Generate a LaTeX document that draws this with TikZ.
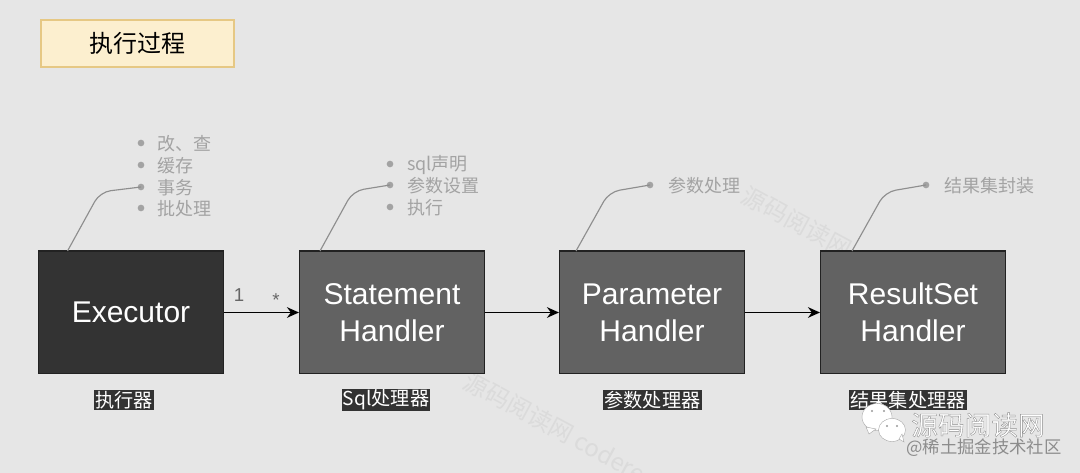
\documentclass[tikz,border=0pt]{standalone}
\usepackage{fontspec}
\setmainfont{Liberation Sans}
\newfontfamily\cjk{Noto Sans CJK SC}
\usetikzlibrary{arrows.meta}
\definecolor{bgc}{HTML}{E6E6E6}
\definecolor{noteg}{HTML}{A3A3A3}
\definecolor{linkg}{HTML}{8E8E8E}
\definecolor{boxa}{HTML}{333333}
\definecolor{boxb}{HTML}{626262}
\definecolor{edgec}{HTML}{222222}
\definecolor{titlef}{HTML}{FCEFCF}
\definecolor{titled}{HTML}{E6C884}
\definecolor{markc}{HTML}{DBDBDB}
\newcommand{\outlined}[1]{\special{pdf:code 2 Tr 0.25 w 0.55 G}#1\special{pdf:code 0 Tr}}
\tikzset{
  x=0.75pt,y=-0.75pt,
  procbox/.style={draw=edgec,line width=1pt,minimum width=138.6pt,minimum height=92pt,inner sep=0pt,text=white,align=center,font=\fontsize{22.5}{28}\selectfont},
  titlebox/.style={draw=titled,fill=titlef,line width=1pt,minimum width=144.75pt,minimum height=35.25pt,inner sep=0pt,font=\cjk\fontsize{18}{20}\selectfont,text=black},
  note/.style={anchor=west,inner sep=0pt,text=noteg,font=\cjk\fontsize{13.5}{15}\selectfont},
  dotm/.style={circle,fill=noteg,minimum size=5pt,inner sep=0pt},
  link/.style={draw=linkg,line width=0.85pt,rounded corners=8pt},
  flow/.style={draw=black,line width=1pt,-{Stealth[length=9pt,width=8pt]}},
  caption/.style={fill=boxa,text=white,inner sep=0.8pt,font=\cjk\fontsize{14.4}{16}\selectfont},
  mult/.style={inner sep=0pt,text=black!60,font=\fontsize{14}{16}\selectfont},
  wmark/.style={inner sep=0pt,text=markc,font=\cjk\fontsize{18}{20}\selectfont},
  brand/.style={inner sep=0pt,text=white,font=\cjk\fontsize{20}{22}\selectfont},
  brandsub/.style={inner sep=0pt,text=black!45,font=\cjk\fontsize{13}{15}\selectfont},
  chat/.style={draw=black!35,fill=white,line width=0.3pt},
  chateye/.style={fill=black!40}
}
\begin{document}
\begin{tikzpicture}
\useasboundingbox (0,0) rectangle (1080,473);
\fill[bgc] (0,0) rectangle (1080,473);

% watermarks
\node[wmark,rotate=-28.5] (mk1) at (797,222) {源码阅读网};
\node[wmark,rotate=-28.5,anchor=west] (mk2) at (466,379) {源码阅读网 coderea};

\node[titlebox] (title) at (137.5,43.5) {执行过程};

\node[procbox,fill=boxa] (exec) at (131,312.5) {Executor};
\node[procbox,fill=boxb] (stmt) at (392,312.5) {Statement\\Handler};
\node[procbox,fill=boxb] (param) at (652,312.5) {Parameter\\Handler};
\node[procbox,fill=boxb] (rset) at (913,312.5) {ResultSet\\Handler};

\draw[flow] (exec) -- (stmt);
\draw[flow] (stmt) -- (param);
\draw[flow] (param) -- (rset);
\node[mult] (one) at (239,295) {1};
\node[mult] (star) at (276,300) {*};

% notes
\foreach \n/\y/\t in {a/143/改、查,b/165/缓存,c/187/事务,d/208/批处理}{
  \node[dotm] (e\n) at (141,\y) {};
  \node[note] (te\n) at (157,\y+0.8) {\t};
}
\foreach \n/\y/\t in {a/164/sql声明,b/185/参数设置,c/207/执行}{
  \node[dotm] (s\n) at (390,\y) {};
  \node[note] (ts\n) at (407,\y+0.8) {\t};
}
\node[dotm] (p1) at (650,185) {};
\node[note] (tp1) at (668,185.8) {参数处理};
\node[dotm] (r1) at (926,185) {};
\node[note] (tr1) at (944,185.8) {结果集封装};

\coordinate (l1) at (67.5,251);
\coordinate (b1) at (100,192);
\coordinate (l2) at (320,251);
\coordinate (b2) at (353,191);
\coordinate (l3) at (576,251);
\coordinate (b3) at (609,192);
\coordinate (l4) at (852,251);
\coordinate (b4) at (885,192);
\draw[link] (l1) -- (b1) -- (ec.center);
\draw[link] (l2) -- (b2) -- (sb.center);
\draw[link] (l3) -- (b3) -- (p1.center);
\draw[link] (l4) -- (b4) -- (r1.center);

% captions
\node[caption] (c1) at (124,400) {执行器};
\node[caption] (c2) at (386,400) {Sql处理器};
\node[caption] (c3) at (652.5,400) {参数处理器};
\node[caption] (c4) at (908,400) {结果集处理器};

% brand mark
\fill[chat] (877,417) ellipse (15 and 13.5);
\fill[chat] (866,427) -- (869,434) -- (876,429) -- cycle;
\fill[chat] (892,430) ellipse (13.5 and 11.5);
\fill[chat] (899,439) -- (904,442) -- (902,434) -- cycle;
\fill[chateye] (872,411) circle (1.2);
\fill[chateye] (884,411) circle (1.2);
\fill[chateye] (887,426) circle (1.2);
\fill[chateye] (897,426) circle (1.2);
\node[brand] (brand1) at (978,425) {\outlined{源码阅读网}};
\node[brandsub] (brand2) at (984,448) {@稀土掘金技术社区};
\end{tikzpicture}
\end{document}
